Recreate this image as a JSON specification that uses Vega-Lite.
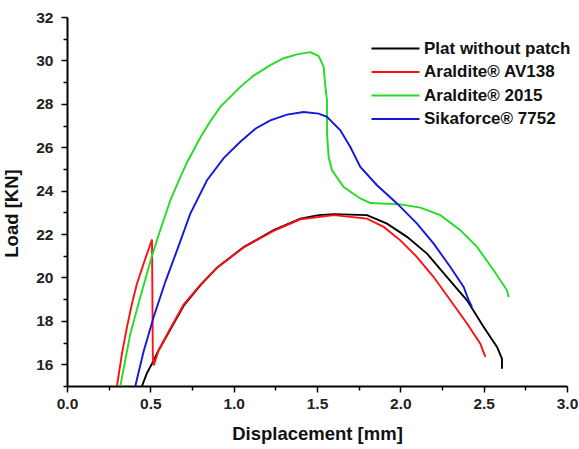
{
  "$schema": "https://vega.github.io/schema/vega-lite/v6.json",
  "width": 500,
  "height": 369,
  "autosize": {"type": "none"},
  "padding": {"left": 67, "top": 17, "right": 12, "bottom": 63},
  "background": "white",
  "config": {"view": {"stroke": null}, "font": "Liberation Sans"},
  "data": {
    "values": [
      {"s": "Plat without patch", "i": 1, "d": 0.45, "l": 15.0},
      {"s": "Plat without patch", "i": 2, "d": 0.48, "l": 15.6},
      {"s": "Plat without patch", "i": 3, "d": 0.51, "l": 16.03},
      {"s": "Plat without patch", "i": 4, "d": 0.55, "l": 16.65},
      {"s": "Plat without patch", "i": 5, "d": 0.62, "l": 17.6},
      {"s": "Plat without patch", "i": 6, "d": 0.7, "l": 18.7},
      {"s": "Plat without patch", "i": 7, "d": 0.8, "l": 19.64},
      {"s": "Plat without patch", "i": 8, "d": 0.9, "l": 20.45},
      {"s": "Plat without patch", "i": 9, "d": 1.06, "l": 21.4},
      {"s": "Plat without patch", "i": 10, "d": 1.24, "l": 22.18},
      {"s": "Plat without patch", "i": 11, "d": 1.4, "l": 22.71},
      {"s": "Plat without patch", "i": 12, "d": 1.51, "l": 22.87},
      {"s": "Plat without patch", "i": 13, "d": 1.6, "l": 22.92},
      {"s": "Plat without patch", "i": 14, "d": 1.8, "l": 22.87},
      {"s": "Plat without patch", "i": 15, "d": 1.92, "l": 22.48},
      {"s": "Plat without patch", "i": 16, "d": 2.04, "l": 21.87},
      {"s": "Plat without patch", "i": 17, "d": 2.16, "l": 21.1},
      {"s": "Plat without patch", "i": 18, "d": 2.28, "l": 20.02},
      {"s": "Plat without patch", "i": 19, "d": 2.4, "l": 18.95},
      {"s": "Plat without patch", "i": 20, "d": 2.5, "l": 17.72},
      {"s": "Plat without patch", "i": 21, "d": 2.58, "l": 16.8},
      {"s": "Plat without patch", "i": 22, "d": 2.61, "l": 16.26},
      {"s": "Plat without patch", "i": 23, "d": 2.61, "l": 15.8},

      {"s": "Araldite® AV138", "i": 1, "d": 0.3, "l": 15.0},
      {"s": "Araldite® AV138", "i": 2, "d": 0.33, "l": 16.5},
      {"s": "Araldite® AV138", "i": 3, "d": 0.36, "l": 17.72},
      {"s": "Araldite® AV138", "i": 4, "d": 0.39, "l": 18.8},
      {"s": "Araldite® AV138", "i": 5, "d": 0.42, "l": 19.72},
      {"s": "Araldite® AV138", "i": 6, "d": 0.47, "l": 20.87},
      {"s": "Araldite® AV138", "i": 7, "d": 0.51, "l": 21.75},
      {"s": "Araldite® AV138", "i": 8, "d": 0.515, "l": 16.3},
      {"s": "Araldite® AV138", "i": 9, "d": 0.52, "l": 15.95},
      {"s": "Araldite® AV138", "i": 10, "d": 0.55, "l": 16.65},
      {"s": "Araldite® AV138", "i": 11, "d": 0.62, "l": 17.65},
      {"s": "Araldite® AV138", "i": 12, "d": 0.7, "l": 18.75},
      {"s": "Araldite® AV138", "i": 13, "d": 0.8, "l": 19.66},
      {"s": "Araldite® AV138", "i": 14, "d": 0.9, "l": 20.45},
      {"s": "Araldite® AV138", "i": 15, "d": 1.06, "l": 21.38},
      {"s": "Araldite® AV138", "i": 16, "d": 1.24, "l": 22.15},
      {"s": "Araldite® AV138", "i": 17, "d": 1.4, "l": 22.68},
      {"s": "Araldite® AV138", "i": 18, "d": 1.6, "l": 22.87},
      {"s": "Araldite® AV138", "i": 19, "d": 1.8, "l": 22.71},
      {"s": "Araldite® AV138", "i": 20, "d": 1.9, "l": 22.33},
      {"s": "Araldite® AV138", "i": 21, "d": 2.0, "l": 21.71},
      {"s": "Araldite® AV138", "i": 22, "d": 2.1, "l": 20.94},
      {"s": "Araldite® AV138", "i": 23, "d": 2.2, "l": 20.02},
      {"s": "Araldite® AV138", "i": 24, "d": 2.3, "l": 18.95},
      {"s": "Araldite® AV138", "i": 25, "d": 2.4, "l": 17.88},
      {"s": "Araldite® AV138", "i": 26, "d": 2.48, "l": 16.95},
      {"s": "Araldite® AV138", "i": 27, "d": 2.51, "l": 16.34},

      {"s": "Araldite® 2015", "i": 1, "d": 0.32, "l": 15.0},
      {"s": "Araldite® 2015", "i": 2, "d": 0.38, "l": 17.41},
      {"s": "Araldite® 2015", "i": 3, "d": 0.44, "l": 19.1},
      {"s": "Araldite® 2015", "i": 4, "d": 0.51, "l": 21.0},
      {"s": "Araldite® 2015", "i": 5, "d": 0.56, "l": 22.2},
      {"s": "Araldite® 2015", "i": 6, "d": 0.62, "l": 23.55},
      {"s": "Araldite® 2015", "i": 7, "d": 0.67, "l": 24.45},
      {"s": "Araldite® 2015", "i": 8, "d": 0.72, "l": 25.3},
      {"s": "Araldite® 2015", "i": 9, "d": 0.8, "l": 26.45},
      {"s": "Araldite® 2015", "i": 10, "d": 0.86, "l": 27.2},
      {"s": "Araldite® 2015", "i": 11, "d": 0.92, "l": 27.86},
      {"s": "Araldite® 2015", "i": 12, "d": 1.04, "l": 28.78},
      {"s": "Araldite® 2015", "i": 13, "d": 1.12, "l": 29.3},
      {"s": "Araldite® 2015", "i": 14, "d": 1.22, "l": 29.78},
      {"s": "Araldite® 2015", "i": 15, "d": 1.3, "l": 30.1},
      {"s": "Araldite® 2015", "i": 16, "d": 1.38, "l": 30.28},
      {"s": "Araldite® 2015", "i": 17, "d": 1.46, "l": 30.38},
      {"s": "Araldite® 2015", "i": 18, "d": 1.51, "l": 30.2},
      {"s": "Araldite® 2015", "i": 19, "d": 1.54, "l": 29.7},
      {"s": "Araldite® 2015", "i": 20, "d": 1.55, "l": 28.8},
      {"s": "Araldite® 2015", "i": 21, "d": 1.56, "l": 28.17},
      {"s": "Araldite® 2015", "i": 22, "d": 1.56, "l": 26.63},
      {"s": "Araldite® 2015", "i": 23, "d": 1.57, "l": 25.55},
      {"s": "Araldite® 2015", "i": 24, "d": 1.59, "l": 24.94},
      {"s": "Araldite® 2015", "i": 25, "d": 1.66, "l": 24.17},
      {"s": "Araldite® 2015", "i": 26, "d": 1.76, "l": 23.64},
      {"s": "Araldite® 2015", "i": 27, "d": 1.82, "l": 23.43},
      {"s": "Araldite® 2015", "i": 28, "d": 2.0, "l": 23.37},
      {"s": "Araldite® 2015", "i": 29, "d": 2.12, "l": 23.22},
      {"s": "Araldite® 2015", "i": 30, "d": 2.24, "l": 22.87},
      {"s": "Araldite® 2015", "i": 31, "d": 2.36, "l": 22.18},
      {"s": "Araldite® 2015", "i": 32, "d": 2.46, "l": 21.41},
      {"s": "Araldite® 2015", "i": 33, "d": 2.56, "l": 20.33},
      {"s": "Araldite® 2015", "i": 34, "d": 2.64, "l": 19.41},
      {"s": "Araldite® 2015", "i": 35, "d": 2.65, "l": 19.1},

      {"s": "Sikaforce® 7752", "i": 1, "d": 0.41, "l": 15.0},
      {"s": "Sikaforce® 7752", "i": 2, "d": 0.46, "l": 16.6},
      {"s": "Sikaforce® 7752", "i": 3, "d": 0.52, "l": 18.18},
      {"s": "Sikaforce® 7752", "i": 4, "d": 0.59, "l": 19.8},
      {"s": "Sikaforce® 7752", "i": 5, "d": 0.66, "l": 21.25},
      {"s": "Sikaforce® 7752", "i": 6, "d": 0.74, "l": 22.94},
      {"s": "Sikaforce® 7752", "i": 7, "d": 0.84, "l": 24.48},
      {"s": "Sikaforce® 7752", "i": 8, "d": 0.94, "l": 25.5},
      {"s": "Sikaforce® 7752", "i": 9, "d": 1.04, "l": 26.25},
      {"s": "Sikaforce® 7752", "i": 10, "d": 1.13, "l": 26.85},
      {"s": "Sikaforce® 7752", "i": 11, "d": 1.22, "l": 27.24},
      {"s": "Sikaforce® 7752", "i": 12, "d": 1.32, "l": 27.5},
      {"s": "Sikaforce® 7752", "i": 13, "d": 1.42, "l": 27.62},
      {"s": "Sikaforce® 7752", "i": 14, "d": 1.51, "l": 27.55},
      {"s": "Sikaforce® 7752", "i": 15, "d": 1.56, "l": 27.4},
      {"s": "Sikaforce® 7752", "i": 16, "d": 1.64, "l": 26.78},
      {"s": "Sikaforce® 7752", "i": 17, "d": 1.7, "l": 26.01},
      {"s": "Sikaforce® 7752", "i": 18, "d": 1.76, "l": 25.09},
      {"s": "Sikaforce® 7752", "i": 19, "d": 1.86, "l": 24.25},
      {"s": "Sikaforce® 7752", "i": 20, "d": 1.98, "l": 23.41},
      {"s": "Sikaforce® 7752", "i": 21, "d": 2.1, "l": 22.48},
      {"s": "Sikaforce® 7752", "i": 22, "d": 2.2, "l": 21.56},
      {"s": "Sikaforce® 7752", "i": 23, "d": 2.3, "l": 20.48},
      {"s": "Sikaforce® 7752", "i": 24, "d": 2.38, "l": 19.56},
      {"s": "Sikaforce® 7752", "i": 25, "d": 2.41, "l": 18.95},
      {"s": "Sikaforce® 7752", "i": 26, "d": 2.43, "l": 18.64}
    ]
  },
  "mark": {"type": "line", "strokeWidth": 1.9, "clip": true},
  "encoding": {
    "x": {
      "field": "d",
      "type": "quantitative",
      "scale": {"domain": [0, 3], "nice": false},
      "axis": {
        "title": "Displacement [mm]",
        "values": [0, 0.25, 0.5, 0.75, 1, 1.25, 1.5, 1.75, 2, 2.25, 2.5, 2.75, 3],
        "labelExpr": "datum.value % 0.5 === 0 ? format(datum.value, '.1f') : ''",
        "tickSize": {"condition": {"test": "datum.value % 0.5 === 0", "value": 6}, "value": 4},
        "grid": false,
        "domainColor": "#000000",
        "domainWidth": 2,
        "tickColor": "#000000",
        "tickWidth": 1.5,
        "labelFontSize": 15.5,
        "labelFontWeight": "bold",
        "labelColor": "#222222",
        "labelPadding": 4,
        "labelFlush": false,
        "labelOverlap": false,
        "titleFontSize": 18.5,
        "titleFontWeight": "bold",
        "titleColor": "#111111",
        "titlePadding": 13
      }
    },
    "y": {
      "field": "l",
      "type": "quantitative",
      "scale": {"domain": [15, 32], "nice": false, "zero": false},
      "axis": {
        "title": "Load [KN]",
        "values": [15, 16, 17, 18, 19, 20, 21, 22, 23, 24, 25, 26, 27, 28, 29, 30, 31, 32],
        "labelExpr": "datum.value % 2 === 0 ? datum.value : ''",
        "tickSize": {"condition": {"test": "datum.value % 2 === 0", "value": 6}, "value": 4},
        "grid": false,
        "domainColor": "#000000",
        "domainWidth": 2,
        "tickColor": "#000000",
        "tickWidth": 1.5,
        "labelFontSize": 15.5,
        "labelFontWeight": "bold",
        "labelColor": "#222222",
        "labelPadding": 8,
        "labelFlush": false,
        "labelOverlap": false,
        "titleFontSize": 18.5,
        "titleFontWeight": "bold",
        "titleColor": "#111111",
        "titleAngle": 270,
        "titleBaseline": "alphabetic",
        "titleAlign": "center",
        "titleX": -50,
        "titleY": 196
      }
    },
    "color": {
      "field": "s",
      "type": "nominal",
      "scale": {
        "domain": ["Plat without patch", "Araldite® AV138", "Araldite® 2015", "Sikaforce® 7752"],
        "range": ["#000000", "#ff1010", "#22dd22", "#1515e0"]
      },
      "legend": {
        "title": null,
        "orient": "none",
        "legendX": 320,
        "legendY": 23,
        "padding": 0,
        "symbolType": "M-6.4,0H6.4",
        "symbolSize": 56.25,
        "symbolStrokeWidth": 2,
        "labelFontSize": 17,
        "labelFontWeight": "bold",
        "labelColor": "#111111",
        "labelOffset": 20,
        "rowPadding": 5.5,
        "labelLimit": 300
      }
    },
    "order": {"field": "i", "type": "quantitative"}
  }
}
